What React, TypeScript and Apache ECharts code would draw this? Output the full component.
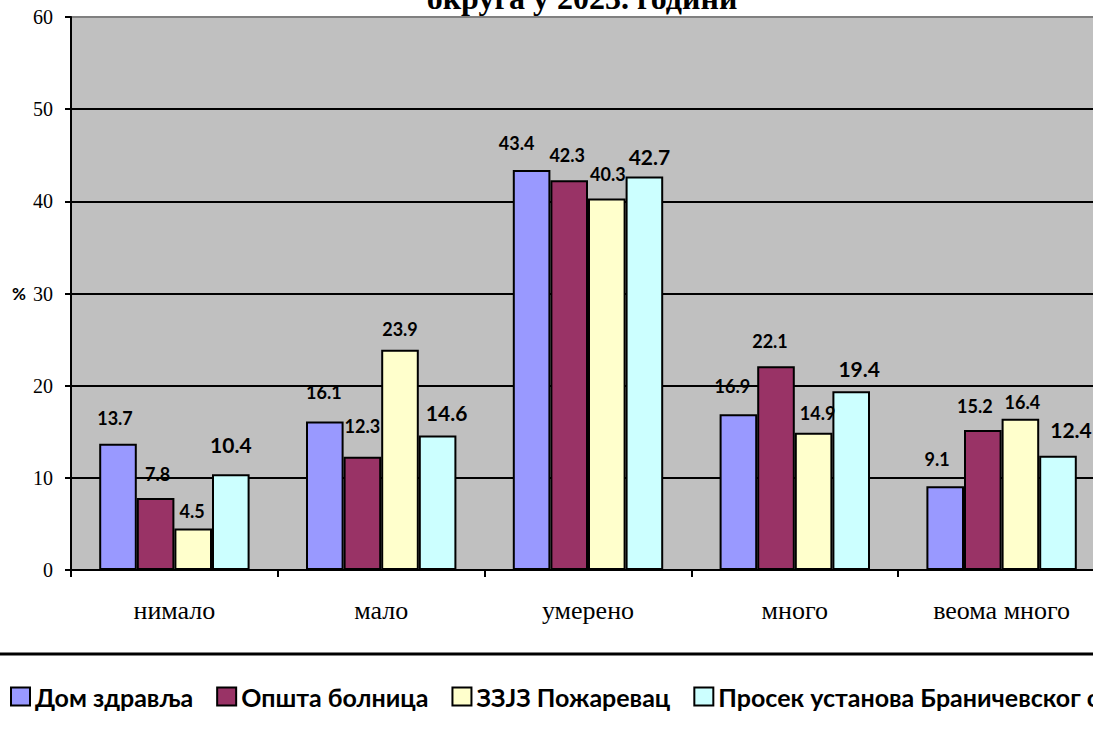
import React, { useEffect, useRef } from "react";
import * as echarts from "echarts";

const categories = ["нимало", "мало", "умерено", "много", "веома много"];
const seriesNames = [
  "Дом здравља",
  "Општа болница",
  "ЗЗЈЗ Пожаревац",
  "Просек установа Браничевског округа",
];
const domZdravlja = [13.7, 16.1, 43.4, 16.9, 9.1];
const opstaBolnica = [7.8, 12.3, 42.3, 22.1, 15.2];
const zzjz = [4.5, 23.9, 40.3, 14.9, 16.4];
const prosek = [10.4, 14.6, 42.7, 19.4, 12.4];
const yTicks = [0, 10, 20, 30, 40, 50, 60];
const titleText = "округа у 2023. години";

// label placement tweaks (horizontal shift, lift above bar top) per series
const labelDx = [
  [-3, -1, -15, -6, -8],
  [2, 0, -2, -6, -8],
  [-1, 0, 1, 4, 2],
  [0, 9, 5, 8, 13],
];
const labelLift = [
  [26, 30, 27, 28, 27],
  [24, 31, 25, 25, 24],
  [18, 21, 25, 20, 17],
  [30, 23, 20, 23, 26],
];
const colors = ["#9999FF", "#993366", "#FFFFCC", "#CCFFFF"];
const labelSizes = [18, 18, 18, 21];

export default function App() {
  const ref = useRef<HTMLDivElement>(null);
  useEffect(() => {
    if (!ref.current) return;
    const chart = echarts.init(ref.current, null, { renderer: "svg" });
    const all = [domZdravlja, opstaBolnica, zzjz, prosek];
    const series = all.map((vals, si) => ({
      type: "bar",
      name: seriesNames[si],
      barWidth: 37.6,
      barGap: "0%",
      itemStyle: { color: colors[si], borderColor: "#000", borderWidth: 2 },
      label: {
        show: true,
        position: "top",
        verticalAlign: "middle",
        fontFamily: "Lato",
        fontWeight: "bold",
        fontSize: labelSizes[si],
        color: "#000",
      },
      data: vals.map((v, i) => ({
        value: v,
        label: { distance: labelLift[si][i], offset: [labelDx[si][i], 0] },
      })),
    }));
    chart.setOption({
      animation: false,
      backgroundColor: "#fff",
      grid: {
        left: 71,
        top: 17,
        width: 1034,
        height: 553,
        outerBoundsMode: "none",
        containLabel: false,
        show: true,
        backgroundColor: "#C0C0C0",
        borderColor: "#808080",
        borderWidth: 2,
      },
      legend: {
        left: 10,
        top: 684,
        width: 2000,
        padding: 0,
        itemWidth: 19,
        itemHeight: 18,
        itemGap: 23,
        icon: "rect",
        textStyle: {
          fontFamily: "Lato",
          fontWeight: "bold",
          fontSize: 25,
          color: "#000",
        },
        data: seriesNames,
      },
      xAxis: {
        type: "category",
        data: categories,
        axisLine: { lineStyle: { color: "#000", width: 2 } },
        axisTick: { show: true, length: 7, lineStyle: { color: "#000", width: 2 } },
        axisLabel: {
          fontFamily: "'Liberation Serif', serif",
          fontSize: 26,
          color: "#000",
          margin: 27,
        },
      },
      yAxis: {
        type: "value",
        min: yTicks[0],
        max: yTicks[yTicks.length - 1],
        interval: 10,
        name: "%",
        nameLocation: "middle",
        nameRotate: 0,
        nameGap: 45,
        nameTextStyle: {
          fontFamily: "Lato",
          fontWeight: "bold",
          fontSize: 17,
          color: "#000",
        },
        axisLine: { show: true, lineStyle: { color: "#000", width: 2 } },
        axisTick: { show: true, length: 6, lineStyle: { color: "#000", width: 2 } },
        axisLabel: {
          fontFamily: "'Liberation Serif', serif",
          fontSize: 20,
          color: "#000",
          margin: 18,
        },
        splitLine: {
          show: true,
          lineStyle: {
            color: ["#000", "#000", "#000", "#000", "#000", "#000", "#808080"],
            width: 2,
          },
        },
      },
      graphic: [
        {
          type: "text",
          x: 582,
          y: 14,
          style: {
            text: titleText,
            x: 0,
            y: 0,
            textAlign: "center",
            textVerticalAlign: "bottom",
            font: "bold 32px 'Liberation Serif'",
            fill: "#000",
          },
        },
        {
          type: "line",
          shape: { x1: 0, y1: 654, x2: 1093, y2: 654 },
          style: { stroke: "#000", lineWidth: 3 },
        },
      ],
      series,
    });
    return () => chart.dispose();
  }, []);
  return (
    <div
      ref={ref}
      style={{ position: "fixed", left: 0, top: 0, width: 1093, height: 747, overflow: "hidden" }}
    />
  );
}
